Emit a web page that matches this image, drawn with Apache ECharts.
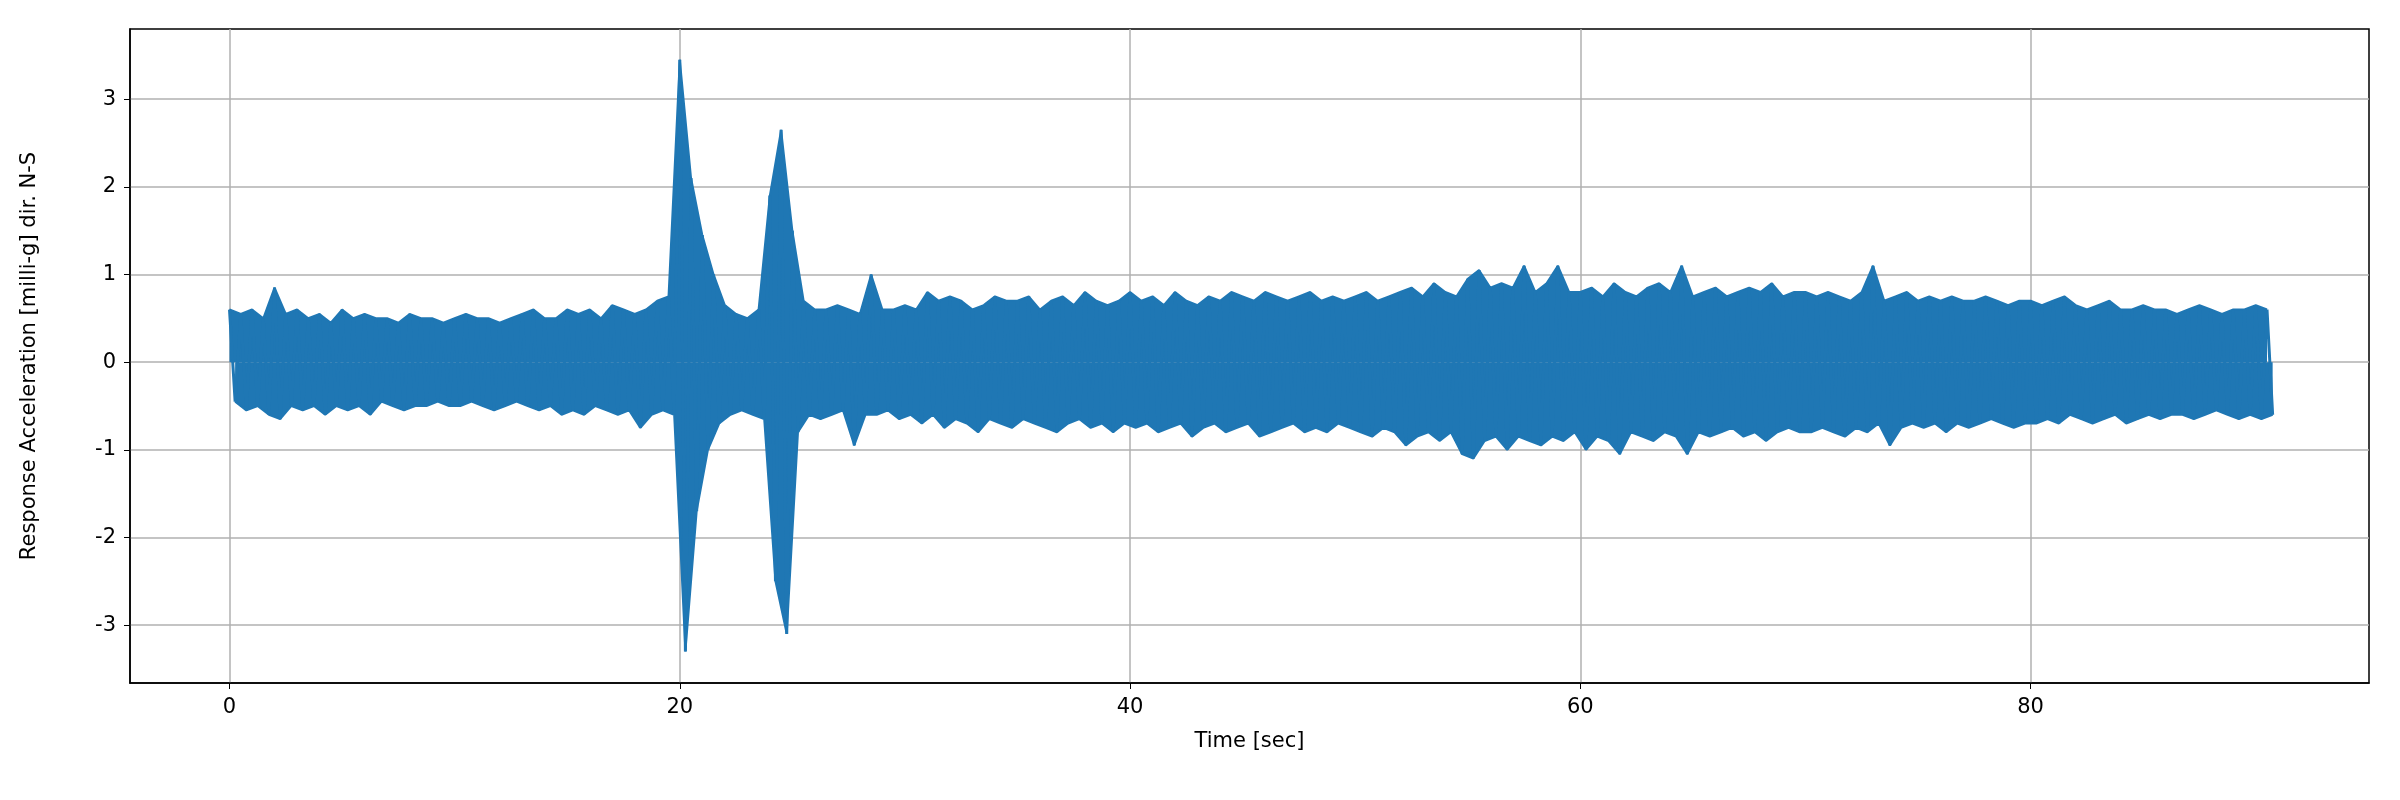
<!DOCTYPE html>
<html>
<head>
    <meta charset="utf-8">
    <title>Response Acceleration</title>
    <script src="https://cdn.jsdelivr.net/npm/echarts@6/dist/echarts.min.js"></script>
</head>
<body style="margin:0;background:#fff">
    <div id="main" style="width:2400px;height:800px"></div>
    <script type="text/javascript">
        // peaks, one pair every 0.5 s: high at t, low at t+0.25
        var step = 0.5;
        var hiPeaks = [
            0.6,0.55,0.6,0.5,0.85,0.55,0.6,0.5,0.55,0.45,0.6,0.5,0.55,0.5,0.5,0.45,0.55,0.5,0.5,0.45,
            0.5,0.55,0.5,0.5,0.45,0.5,0.55,0.6,0.5,0.5,0.6,0.55,0.6,0.5,0.65,0.6,0.55,0.6,0.7,0.75,
            3.45,2.1,1.45,1.0,0.65,0.55,0.5,0.6,1.9,2.65,1.5,0.7,0.6,0.6,0.65,0.6,0.55,1.0,0.6,0.6,
            0.65,0.6,0.8,0.7,0.75,0.7,0.6,0.65,0.75,0.7,0.7,0.75,0.6,0.7,0.75,0.65,0.8,0.7,0.65,0.7,
            0.8,0.7,0.75,0.65,0.8,0.7,0.65,0.75,0.7,0.8,0.75,0.7,0.8,0.75,0.7,0.75,0.8,0.7,0.75,0.7,
            0.75,0.8,0.7,0.75,0.8,0.85,0.75,0.9,0.8,0.75,0.95,1.05,0.85,0.9,0.85,1.1,0.8,0.9,1.1,0.8,
            0.8,0.85,0.75,0.9,0.8,0.75,0.85,0.9,0.8,1.1,0.75,0.8,0.85,0.75,0.8,0.85,0.8,0.9,0.75,0.8,
            0.8,0.75,0.8,0.75,0.7,0.8,1.1,0.7,0.75,0.8,0.7,0.75,0.7,0.75,0.7,0.7,0.75,0.7,0.65,0.7,
            0.7,0.65,0.7,0.75,0.65,0.6,0.65,0.7,0.6,0.6,0.65,0.6,0.6,0.55,0.6,0.65,0.6,0.55,0.6,0.6,
            0.65,0.6
        ];
        var loPeaks = [
            -0.45,-0.55,-0.5,-0.6,-0.65,-0.5,-0.55,-0.5,-0.6,-0.5,-0.55,-0.5,-0.6,-0.45,-0.5,-0.55,-0.5,-0.5,-0.45,-0.5,
            -0.5,-0.45,-0.5,-0.55,-0.5,-0.45,-0.5,-0.55,-0.5,-0.6,-0.55,-0.6,-0.5,-0.55,-0.6,-0.55,-0.75,-0.6,-0.55,-0.6,
            -3.3,-1.7,-1.0,-0.7,-0.6,-0.55,-0.6,-0.65,-2.5,-3.1,-0.8,-0.6,-0.65,-0.6,-0.55,-0.95,-0.6,-0.6,-0.55,-0.65,
            -0.6,-0.7,-0.6,-0.75,-0.65,-0.7,-0.8,-0.65,-0.7,-0.75,-0.65,-0.7,-0.75,-0.8,-0.7,-0.65,-0.75,-0.7,-0.8,-0.7,
            -0.75,-0.7,-0.8,-0.75,-0.7,-0.85,-0.75,-0.7,-0.8,-0.75,-0.7,-0.85,-0.8,-0.75,-0.7,-0.8,-0.75,-0.8,-0.7,-0.75,
            -0.8,-0.85,-0.75,-0.8,-0.95,-0.85,-0.8,-0.9,-0.8,-1.05,-1.1,-0.9,-0.85,-1.0,-0.85,-0.9,-0.95,-0.85,-0.9,-0.8,
            -1.0,-0.85,-0.9,-1.05,-0.8,-0.85,-0.9,-0.8,-0.85,-1.05,-0.8,-0.85,-0.8,-0.75,-0.85,-0.8,-0.9,-0.8,-0.75,-0.8,
            -0.8,-0.75,-0.8,-0.85,-0.75,-0.8,-0.7,-0.95,-0.75,-0.7,-0.75,-0.7,-0.8,-0.7,-0.75,-0.7,-0.65,-0.7,-0.75,-0.7,
            -0.7,-0.65,-0.7,-0.6,-0.65,-0.7,-0.65,-0.6,-0.7,-0.65,-0.6,-0.65,-0.6,-0.6,-0.65,-0.6,-0.55,-0.6,-0.65,-0.6,
            -0.65,-0.6
        ];
        var xTicks = [0, 20, 40, 60, 80];
        var yTicks = [-3, -2, -1, 0, 1, 2, 3];

        var points = [], hiLine = [], loLine = [];
        for (var i = 0; i < hiPeaks.length; i++) {
            points.push([i * step, hiPeaks[i]]);
            points.push([i * step + step / 2, loPeaks[i]]);
            hiLine.push([i * step, hiPeaks[i]]);
            loLine.push([i * step + step / 2, loPeaks[i]]);
        }

        var blue = '#1f77b4';
        var myChart = echarts.init(document.getElementById('main'));
        var axisText = { color: '#000', fontSize: 21, fontFamily: 'DejaVu Sans' };
        myChart.setOption({
            animation: false,
            grid: { left: 130, right: 31, top: 29, bottom: 117, show: true, borderColor: '#000', borderWidth: 1.5 },
            xAxis: {
                type: 'value', min: -4.42, max: 95.03,
                name: 'Time [sec]', nameLocation: 'middle', nameGap: 48,
                nameTextStyle: axisText,
                axisLabel: Object.assign({ margin: 14, customValues: xTicks }, axisText),
                axisTick: { show: true, length: 6, lineStyle: { color: '#000' }, customValues: xTicks },
                axisLine: { show: true, onZero: false, lineStyle: { color: '#000', width: 1.5 } },
                splitLine: { show: true, lineStyle: { color: '#b0b0b0', width: 1.5 } }
            },
            yAxis: {
                type: 'value', min: -3.66, max: 3.8,
                name: 'Response Acceleration [milli-g] dir. N-S', nameLocation: 'middle', nameGap: 90,
                nameTextStyle: axisText,
                axisLabel: Object.assign({ margin: 14, customValues: yTicks }, axisText),
                axisTick: { show: true, length: 6, lineStyle: { color: '#000' }, customValues: yTicks },
                axisLine: { show: true, onZero: false, lineStyle: { color: '#000', width: 1.5 } },
                splitLine: { show: true, lineStyle: { color: '#b0b0b0', width: 1.5 } }
            },
            series: [
                { type: 'line', data: hiLine, showSymbol: false, lineStyle: { color: blue, width: 2 },
                  areaStyle: { color: blue, opacity: 1, origin: 0 } },
                { type: 'line', data: loLine, showSymbol: false, lineStyle: { color: blue, width: 2 },
                  areaStyle: { color: blue, opacity: 1, origin: 0 } },
                { type: 'line', data: points, showSymbol: false, lineStyle: { color: blue, width: 3 } }
            ]
        });
    </script>
</body>
</html>
